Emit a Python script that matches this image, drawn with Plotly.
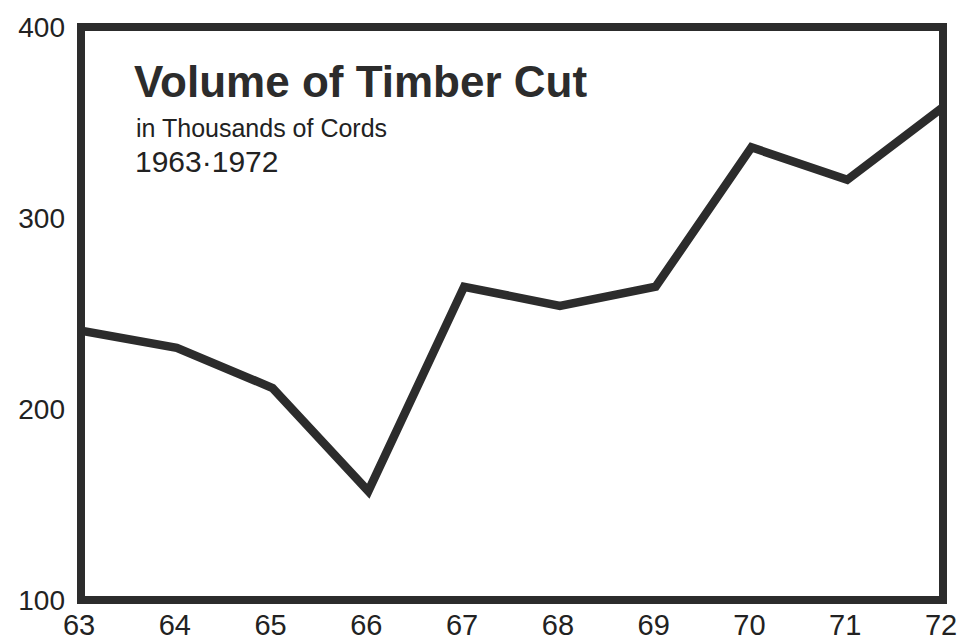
import plotly.graph_objects as go

# Volume of timber cut, thousands of cords, 1963-1972
years = [63, 64, 65, 66, 67, 68, 69, 70, 71, 72]
volume = [241, 232, 211, 157, 264, 254, 264, 337, 320, 358]

x_ticks = [63, 64, 65, 66, 67, 68, 69, 70, 71, 72]
y_ticks = [100, 200, 300, 400]

title_text = "Volume of Timber Cut"
subtitle_text = "in Thousands of Cords"
period_text = "1963\u00b71972"

ink = "#2c2c2c"
font_family = "Liberation Sans, Arial, Helvetica, sans-serif"

W, H = 958, 641
L, R, T, B = 81, 15, 27, 41
pw, ph = W - L - R, H - T - B


def px_x(x):
    return (x - L) / pw


def px_y(y):
    return (H - B - y) / ph


fig = go.Figure()
fig.add_trace(
    go.Scatter(
        x=years,
        y=volume,
        mode="lines",
        line=dict(color=ink, width=8.5),
        cliponaxis=False,
        hoverinfo="skip",
    )
)

# heavy frame around the plotting area
fig.add_shape(
    type="rect",
    xref="x domain",
    yref="y domain",
    x0=0,
    y0=0,
    x1=1,
    y1=1,
    line=dict(color=ink, width=8),
    layer="above",
)

fig.add_annotation(
    text=title_text,
    xref="paper", yref="paper",
    x=px_x(132), y=px_y(81),
    xanchor="left", yanchor="middle",
    showarrow=False,
    font=dict(family=font_family, size=44, color=ink, weight="bold"),
)
fig.add_annotation(
    text=subtitle_text,
    xref="paper", yref="paper",
    x=px_x(134), y=px_y(128),
    xanchor="left", yanchor="middle",
    showarrow=False,
    font=dict(family=font_family, size=25, color="#222"),
)
fig.add_annotation(
    text=period_text,
    xref="paper", yref="paper",
    x=px_x(133), y=px_y(162),
    xanchor="left", yanchor="middle",
    showarrow=False,
    font=dict(family=font_family, size=30, color="#222"),
)

fig.update_layout(
    width=W,
    height=H,
    margin=dict(l=L, r=R, t=T, b=B, autoexpand=False),
    paper_bgcolor="white",
    plot_bgcolor="white",
    showlegend=False,
    xaxis=dict(
        range=[63, 72],
        tickvals=x_ticks,
        ticktext=[str(v) for v in x_ticks],
        showgrid=False,
        zeroline=False,
        showline=False,
        ticks="",
        automargin=False,
        ticklabeloverflow="allow",
        ticklabelstandoff=5,
        ticklabelshift=-2,
        tickfont=dict(family=font_family, size=29, color="#222"),
        fixedrange=True,
    ),
    yaxis=dict(
        range=[100, 400],
        tickvals=y_ticks,
        ticktext=[str(v) for v in y_ticks],
        showgrid=False,
        zeroline=False,
        showline=False,
        ticks="",
        automargin=False,
        ticklabeloverflow="allow",
        ticklabelstandoff=15,
        tickfont=dict(family=font_family, size=28, color="#222"),
        fixedrange=True,
    ),
)

fig.write_html("out.html", config={"displayModeBar": False})
